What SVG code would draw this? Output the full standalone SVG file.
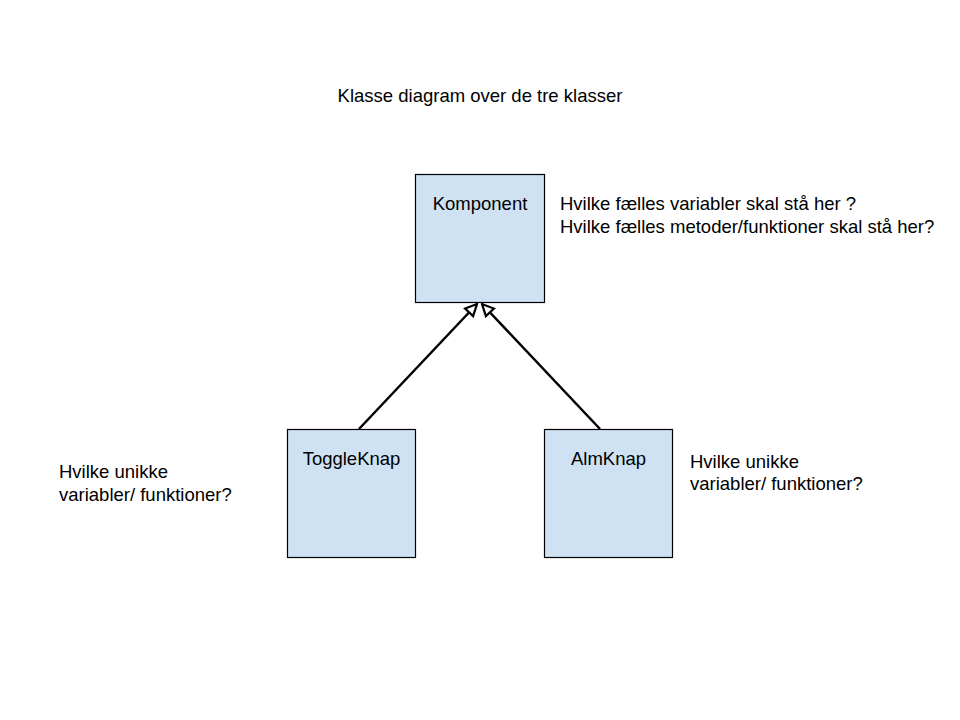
<svg xmlns="http://www.w3.org/2000/svg" width="960" height="720" viewBox="0 0 960 720">
<defs>
<style>
.node{fill:#cfe2f3;stroke:#000;stroke-width:1.2}
.t{font-family:"Liberation Sans",Arial,sans-serif;font-size:18.5px;fill:#000}
.c{text-anchor:middle}
.edge{stroke:#000;stroke-width:2.5;fill:none}
</style>
<marker id="tri" viewBox="0 0 14 14" refX="13" refY="7" markerWidth="14" markerHeight="14" markerUnits="userSpaceOnUse" orient="auto">
<path d="M1.5,1.5 L13,7 L1.5,12.5 Z" fill="#fff" stroke="#000" stroke-width="2.2"/>
</marker>
</defs>
<rect width="960" height="720" fill="#fff"/>
<text class="t c" x="480" y="102">Klasse diagram over de tre klasser</text>
<g id="connectors">
<line class="edge" x1="359" y1="429" x2="477" y2="304" marker-end="url(#tri)"/>
<line class="edge" x1="600" y1="429" x2="482" y2="304" marker-end="url(#tri)"/>
</g>
<g id="komponent">
<rect class="node" x="415.5" y="174.5" width="129" height="128"/>
<text class="t c" x="480" y="210">Komponent</text>
</g>
<g id="toggleknap">
<rect class="node" x="287.5" y="429.5" width="128" height="128"/>
<text class="t c" x="351.5" y="465">ToggleKnap</text>
</g>
<g id="almknap">
<rect class="node" x="544.5" y="429.5" width="128" height="128"/>
<text class="t c" x="608.5" y="465">AlmKnap</text>
</g>
<g id="notes">
<text class="t" x="560" y="210">Hvilke fælles variabler skal stå her ?</text>
<text class="t" x="560" y="233">Hvilke fælles metoder/funktioner skal stå her?</text>
<text class="t" x="59" y="478">Hvilke unikke</text>
<text class="t" x="59" y="501">variabler/ funktioner?</text>
<text class="t" x="690" y="468">Hvilke unikke</text>
<text class="t" x="690" y="490">variabler/ funktioner?</text>
</g>
</svg>
